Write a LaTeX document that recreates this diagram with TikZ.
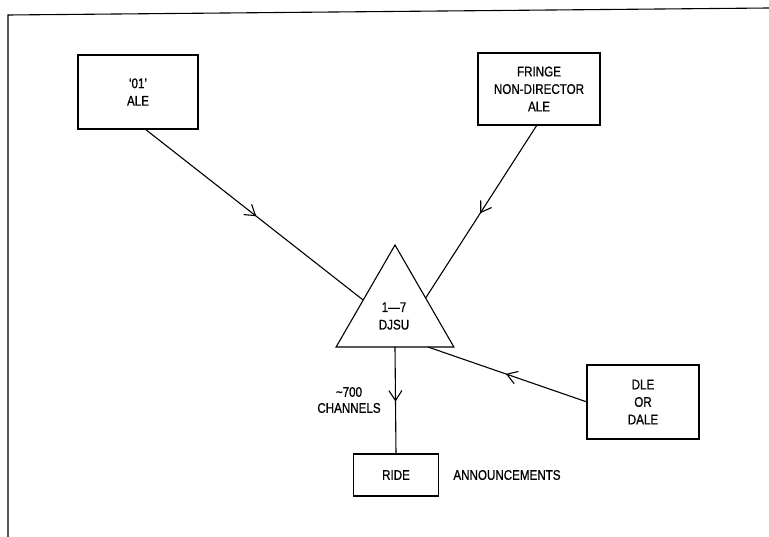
\documentclass[tikz,border=0pt]{standalone}
\usepackage{fontspec}
\setmainfont{Liberation Sans}[FakeStretch=0.83,FakeBold=0.8]
\usetikzlibrary{shapes.geometric,arrows.meta,decorations.markings,calc}

\begin{document}
\begin{tikzpicture}[x=1pt,y=-1pt,line width=1.1pt,
  lbl/.style={font=\fontsize{14}{17.5}\selectfont,align=center,inner sep=0pt},
  box/.style={lbl,draw,rectangle,outer sep=0pt},
  flow/.style={postaction={decorate},
    decoration={markings,mark=at position 0.51 with
      {\arrow{Straight Barb[length=10pt,width=13pt,line width=1.1pt]}}}},
]
\useasboundingbox (0,0) rectangle (769,537);

% open frame: left and top edges only
\draw (8,537) -- (8,15) -- (769,8);

% sources
\node[box,minimum width=120pt,minimum height=74pt] (ale) at (138,92) {`01'\\ALE};
\node[box,minimum width=122pt,minimum height=72pt] (fringe) at (539,89)
  {FRINGE\\NON-DIRECTOR\\ALE};
\node[box,minimum width=112pt,minimum height=74pt] (dle) at (643,402)
  {DLE\\OR\\DALE};

% switching unit
\node[draw,regular polygon,regular polygon sides=3,minimum size=136pt,
      inner sep=0pt,outer sep=0pt] (tri) at (395,313) {};
\node[lbl] (trilbl) at (394,316) {1—7\\DJSU};

% destination
\node[box,minimum width=85pt,minimum height=42pt] (ride) at (396,475) {RIDE};
\node[lbl] (ann) at (507,475) {ANNOUNCEMENTS};
\node[lbl,font=\fontsize{14}{16}\selectfont] (chan) at (349,400)
  {\textasciitilde700\\CHANNELS};

% connectors
\draw[flow] ($(ale.south)+(7,0)$) -- ($(tri.corner 1)!0.54!(tri.corner 2)$);
\draw[flow] ($(fringe.south)+(-2,0)$) -- ($(tri.corner 1)!0.52!(tri.corner 3)$);
\draw[flow] (dle.west) -- ($(tri.corner 2)!0.78!(tri.corner 3)$);
\draw[flow] ($(tri.corner 2)!0.5!(tri.corner 3)$) -- (ride.north);
\end{tikzpicture}
\end{document}
